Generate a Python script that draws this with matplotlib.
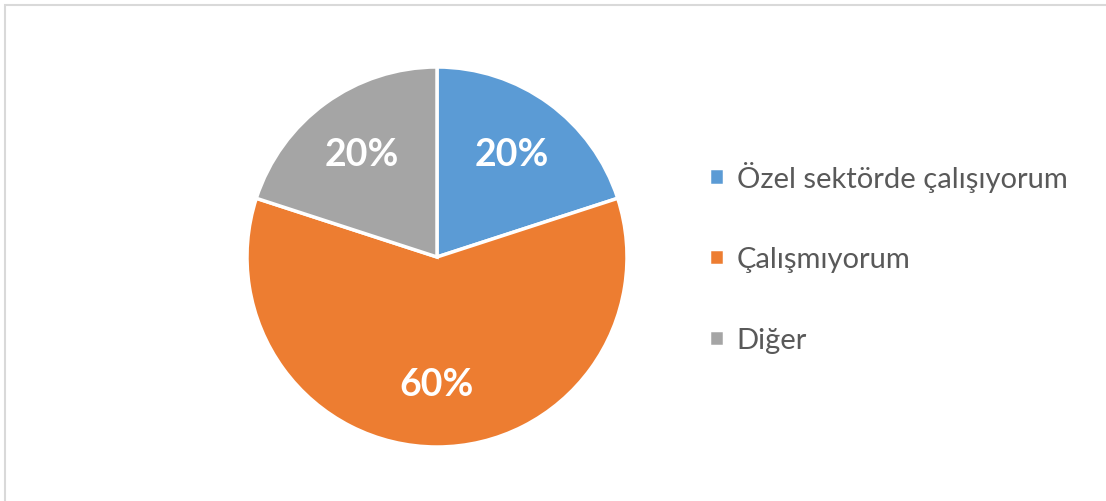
import matplotlib.pyplot as plt
from matplotlib.patches import Rectangle

labels = ["Özel sektörde çalışıyorum", "Çalışmıyorum", "Diğer"]
values = [20, 60, 20]
colors = ["#5B9BD5", "#ED7D31", "#A5A5A5"]

plt.rcParams['font.family'] = ['Lato', 'DejaVu Sans']

fig = plt.figure(figsize=(11.06, 5.02), dpi=100)

# light frame (only top/left edge visible in the original crop)
fig.patches.append(Rectangle((5 / 1106, -0.1), 1.2, (502 - 6) / 502 + 0.1,
                             transform=fig.transFigure, fill=False,
                             edgecolor="#D9D9D9", linewidth=1.5))

cx, cy, r = 437, 258, 190
ax = fig.add_axes([(cx - r) / 1106, (502 - cy - r) / 502, 2 * r / 1106, 2 * r / 502])
wedges, texts, autotexts = ax.pie(
    values, colors=colors, startangle=90, counterclock=False,
    autopct=lambda p: f"{p:.0f}%", pctdistance=0.67,
    wedgeprops=dict(edgecolor="white", linewidth=2.5),
    textprops=dict(color="white", fontsize=27, fontweight="bold"))
ax.set_xlim(-1, 1)
ax.set_ylim(-1, 1)
ax.set_aspect('equal')

ax.legend(wedges, labels, loc="center left", bbox_to_anchor=(1.147, 0.5),
          frameon=False, fontsize=21, labelcolor="#595959",
          handlelength=0.5, handleheight=0.5, handletextpad=0.45,
          labelspacing=1.88)

fig.savefig("out.png", dpi=100, facecolor="white")
